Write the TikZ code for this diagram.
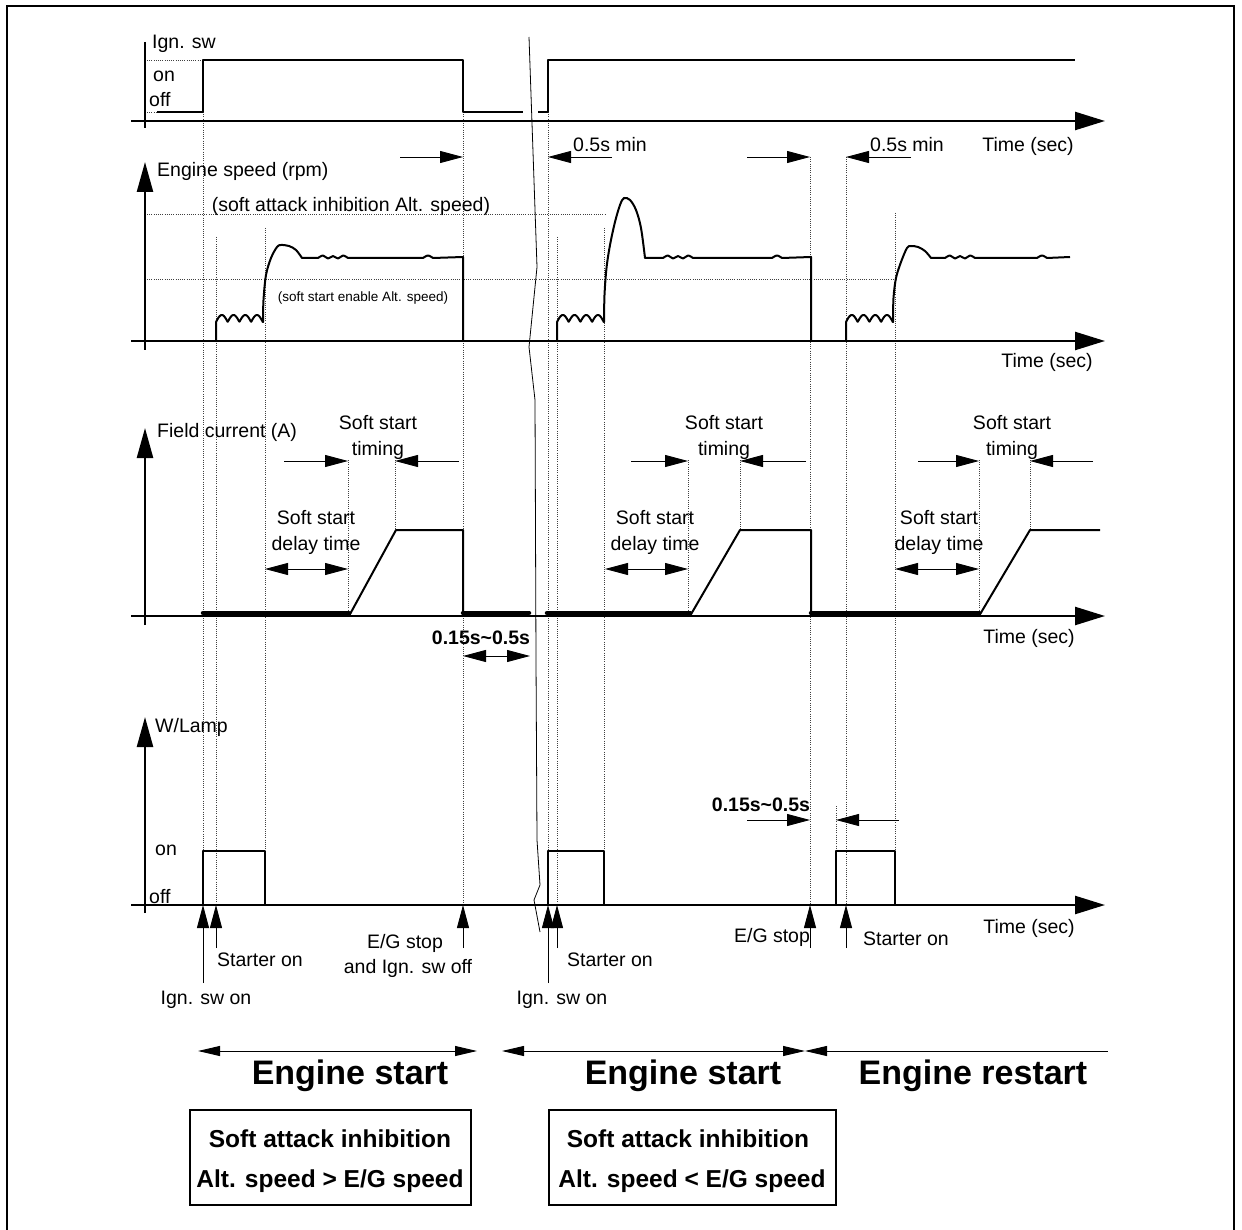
\documentclass[tikz,border=0pt]{standalone}
\usepackage{fontspec}
\setmainfont{Liberation Sans}
\usetikzlibrary{arrows.meta}
\begin{document}
\begin{tikzpicture}[x=1pt,y=-1pt,
  axis/.style={line width=2.4pt},
  trace/.style={line width=2pt, line join=round},
  thicktrace/.style={line width=4.5pt, line cap=round},
  guide/.style={line width=0.7pt, black!75, dash pattern=on 1pt off 1.2pt},
  note/.style={line width=0.9pt},
  xtip/.style={-{Triangle[length=30pt,width=18pt]}},
  ytip/.style={-{Triangle[length=30pt,width=16pt]}},
  sma/.style={-{Triangle[length=23pt,width=12pt]}},
  smab/.style={{Triangle[length=23pt,width=12pt]}-{Triangle[length=23pt,width=12pt]}},
  rng/.style={{Triangle[length=22pt,width=10pt]}-{Triangle[length=22pt,width=10pt]}},
  rngl/.style={{Triangle[length=22pt,width=10pt]}-},
  lbl/.style={font=\fontsize{19.5}{26}\selectfont, inner sep=0pt, align=center},
  slbl/.style={font=\fontsize{13.5}{16}\selectfont, inner sep=0pt},
  blbl/.style={font=\bfseries\fontsize{19.5}{26}\selectfont, inner sep=0pt},
  ttl/.style={font=\bfseries\fontsize{34}{40}\selectfont, inner sep=0pt},
  boxtxt/.style={font=\bfseries\fontsize{24.5}{30}\selectfont, inner sep=0pt},
  frame/.style={draw, line width=1.6pt, inner sep=0pt}
]
\useasboundingbox (0,0) rectangle (1242,1230);
% outer frame
\draw[line width=2.8pt] (7,1235) -- (7,6) -- (1234,6) -- (1234,1235);

% ---------- guides (dotted) ----------
\draw[guide] (147,60) -- (203,60);
\draw[guide] (147,112) -- (157,112);
\draw[guide] (147,214) -- (605,214);
\draw[guide] (147,279) -- (895,279);
\foreach \gx/\ga/\gb in {203/112/905, 216/237/905, 265/228/905, 348/460/616, 395/460/530,
  463/112/905, 548/112/905, 557/237/905, 604/228/905, 688/460/616, 740/460/530,
  810/157/905, 836/806/905, 846/157/905, 895/213/905, 979/460/616, 1030/460/530}
  \draw[guide] (\gx,\ga) -- (\gx,\gb);

% ---------- chart 1 : Ign. sw ----------
\draw[axis] (145,42) -- (145,128);
\draw[axis,xtip] (131,121) -- (1105,121);
\node[lbl, anchor=west] (ignlbl) at (152,44) {Ign. sw};
\node[lbl, anchor=west] (ignon) at (153,76) {on};
\node[lbl, anchor=west] (ignoff) at (149,100) {off};
\draw[trace] (157,112) -- (203,112) -- (203,60) -- (463,60) -- (463,112) -- (523,112);
\draw[trace] (538,112) -- (548,112) -- (548,60) -- (1075,60);
\node[lbl] (t1) at (1028,146) {Time (sec)};
% 0.5 s min arrows
\draw[note,sma] (400,157) -- (463,157);
\draw[note,sma] (612,157) -- (548,157);
\node[lbl] (m1) at (610,145) {0.5s min};
\draw[note,sma] (747,157) -- (810,157);
\draw[note,sma] (911,157) -- (846,157);
\node[lbl] (m2) at (907,145) {0.5s min};

% ---------- chart 2 : Engine speed ----------
\draw[axis,ytip] (145,350) -- (145,162);
\draw[axis,xtip] (131,341) -- (1105,341);
\node[lbl, anchor=west] (eslbl) at (157,171) {Engine speed (rpm)};
\node[lbl] (inhib) at (351,206) {(soft attack inhibition Alt. speed)};
\node[slbl] (enab) at (363,298) {(soft start enable Alt. speed)};
\node[lbl] (t2) at (1047,362) {Time (sec)};
\draw[trace] (216,341) -- (216,322)
  -- plot[domain=0:4,samples=90] ({216+11.7*\x},{322-7*abs(sin(180*\x))})
  -- plot[smooth,tension=0.55] coordinates {(263,322) (263.5,300) (266,275) (271,258) (277,247) (281,245) (289,246) (296,250) (302,258)}
  -- (318,258)
  -- plot[smooth] coordinates {(318,258) (323,255.5) (328,258.5) (333,256) (338,258.5) (343,255.5) (348,258)}
  -- (423,258)
  -- plot[smooth] coordinates {(423,258) (428,255.5) (433,258)}
  -- (463,257) -- (463,341);
\draw[trace] (557,341) -- (557,322)
  -- plot[domain=0:4,samples=90] ({557+11.7*\x},{322-7*abs(sin(180*\x))})
  -- plot[smooth,tension=0.55] coordinates {(604,322) (604.5,295) (606.5,268) (610,245) (615,222) (620,205) (624,198) (630,200) (636,210) (641,228) (645,258)}
  -- (663,258)
  -- plot[smooth] coordinates {(663,258) (668,255.5) (673,258.5) (678,256) (683,258.5) (688,255.5) (693,258)}
  -- (772,258)
  -- plot[smooth] coordinates {(772,258) (777,255.5) (782,258)}
  -- (811,257) -- (811,341);
\draw[trace] (846,341) -- (846,322)
  -- plot[domain=0:4,samples=90] ({846+11.7*\x},{322-7*abs(sin(180*\x))})
  -- plot[smooth,tension=0.55] coordinates {(893,322) (893.5,298) (896,278) (901,262) (907,248) (911,246) (918,247) (925,251) (931,258)}
  -- (945,258)
  -- plot[smooth] coordinates {(945,258) (950,255.5) (955,258.5) (960,256) (965,258.5) (970,255.5) (975,258)}
  -- (1037,258)
  -- plot[smooth] coordinates {(1037,258) (1042,255.5) (1047,258)}
  -- (1070,257);

% ---------- chart 3 : Field current ----------
\draw[axis,ytip] (145,625) -- (145,428);
\draw[axis,xtip] (131,616) -- (1105,616);
\node[lbl, anchor=west] (fclbl) at (157,432) {Field current (A)};
\node[lbl] (t3) at (1029,638) {Time (sec)};
\draw[thicktrace] (203,613) -- (349,613);
\draw[trace] (349,616) -- (396,530) -- (463,530) -- (463,616);
\draw[thicktrace] (463,613) -- (529,613);
\draw[thicktrace] (547,613) -- (690,613);
\draw[trace] (690,616) -- (740,530) -- (811,530) -- (811,616);
\draw[thicktrace] (811,613) -- (979,613);
\draw[trace] (979,616) -- (1030,530) -- (1100,530);
% annotations group 1
\node[lbl] (tim1) at (378,437) {Soft start\\timing};
\draw[note,sma] (284,461) -- (348,461);
\draw[note,sma] (459,461) -- (395,461);
\node[lbl] (del1) at (316,532) {Soft start\\delay time};
\draw[note,smab] (265,569) -- (348,569);
% group 2
\node[lbl] (tim2) at (724,437) {Soft start\\timing};
\draw[note,sma] (631,461) -- (688,461);
\draw[note,sma] (806,461) -- (740,461);
\node[lbl] (del2) at (655,532) {Soft start\\delay time};
\draw[note,smab] (605,569) -- (688,569);
% group 3
\node[lbl] (tim3) at (1012,437) {Soft start\\timing};
\draw[note,sma] (918,461) -- (979,461);
\draw[note,sma] (1093,461) -- (1030,461);
\node[lbl] (del3) at (939,532) {Soft start\\delay time};
\draw[note,smab] (895,569) -- (979,569);
% 0.15 - 0.5 s
\node[blbl] (dt1) at (481,638) {0.15s\textasciitilde0.5s};
\draw[note,smab] (463,656) -- (530,656);

% ---------- chart 4 : W/Lamp ----------
\draw[axis,ytip] (145,913) -- (145,717);
\draw[axis,xtip] (131,905) -- (1105,905);
\node[lbl, anchor=west] (wllbl) at (155,727) {W/Lamp};
\node[lbl, anchor=west] (wlon) at (155,850) {on};
\node[lbl, anchor=west] (wloff) at (149,897) {off};
\node[lbl] (t4) at (1029,928) {Time (sec)};
\draw[trace] (203,905) -- (203,851) -- (265,851) -- (265,905);
\draw[trace] (548,905) -- (548,851) -- (604,851) -- (604,905);
\draw[trace] (836,905) -- (836,851) -- (895,851) -- (895,905);
\node[blbl] (dt2) at (761,805) {0.15s\textasciitilde0.5s};
\draw[note,sma] (747,820) -- (810,820);
\draw[note,sma] (899,820) -- (836,820);
% event arrows
\draw[note,sma] (203,983) -- (203,905);
\draw[note,sma] (216,948) -- (216,905);
\draw[note,sma] (463,948) -- (463,905);
\draw[note,sma] (548,983) -- (548,905);
\draw[note,sma] (557,948) -- (557,905);
\draw[note,sma] (810,948) -- (810,905);
\draw[note,sma] (846,948) -- (846,905);
\node[lbl] (ev1) at (206,1000) {Ign. sw on};
\node[lbl, anchor=west] (ev2) at (217,960) {Starter on};
\node[lbl] (ev3) at (405,943) {E/G stop};
\node[lbl] (ev3b) at (408,968) {and Ign. sw off};
\node[lbl] (ev4) at (562,1000) {Ign. sw on};
\node[lbl, anchor=west] (ev5) at (567,960) {Starter on};
\node[lbl] (ev6) at (772,937) {E/G stop};
\node[lbl, anchor=west] (ev7) at (863,939) {Starter on};

% break line
\draw[line width=0.8pt] (529,37) -- (537,267) -- (529,347) -- (535,400) -- (536,660) -- (537,840) -- (540,885) -- (534,900) -- (540,932);

% ---------- bottom phases ----------
\draw[note,rng] (198,1051) -- (477,1051);
\draw[note,rng] (502,1051) -- (805,1051);
\draw[note,rngl] (805,1051) -- (1108,1051);
\node[ttl] (ph1) at (350,1076) {Engine start};
\node[ttl] (ph2) at (683,1076) {Engine start};
\node[ttl] (ph3) at (973,1076) {Engine restart};
\node[frame, minimum width=281pt, minimum height=95pt] (box1) at (330.5,1157.5) {};
\node[boxtxt] (b1a) at (330,1139) {Soft attack inhibition};
\node[boxtxt] (b1b) at (330,1181) {Alt. speed > E/G speed};
\node[frame, minimum width=287pt, minimum height=95pt] (box2) at (692.5,1157.5) {};
\node[boxtxt] (b2a) at (688,1139) {Soft attack inhibition};
\node[boxtxt] (b2b) at (692,1181) {Alt. speed < E/G speed};
\end{tikzpicture}
\end{document}
